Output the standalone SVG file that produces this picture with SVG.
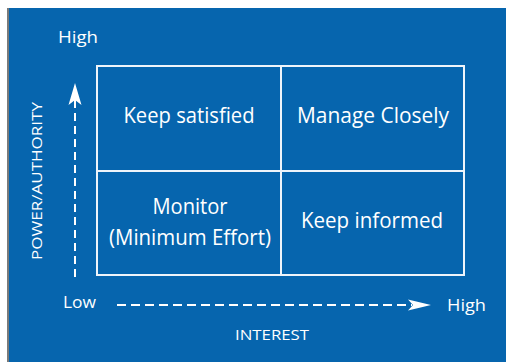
<svg xmlns="http://www.w3.org/2000/svg" width="506" height="362" viewBox="0 0 506 362">
  <style>
    .panel { fill: #0665ae; }
    .edge { stroke: #7a7a7a; stroke-width: 2; }
    .cell { fill: none; stroke: #eef4fa; stroke-width: 2; }
    .lbl { font-family: "Open Sans", "Liberation Sans", sans-serif; fill: #ffffff; }
    .cellText { font-size: 21px; text-anchor: middle; }
    .axisText { font-size: 16px; }
    .dash { stroke: #ffffff; stroke-width: 2; fill: none; }
    .head { fill: #ffffff; }
  </style>

  <!-- blue panel -->
  <rect class="panel" x="9" y="8" width="497" height="354"/>
  <line class="edge" x1="8" y1="8" x2="8" y2="362"/>

  <!-- quadrants -->
  <g id="keep-satisfied">
    <rect class="cell" x="97" y="66" width="184" height="105"/>
    <text class="lbl cellText" x="189" y="123" textLength="131" lengthAdjust="spacingAndGlyphs">Keep satisfied</text>
  </g>
  <g id="manage-closely">
    <rect class="cell" x="281" y="66" width="183" height="105"/>
    <text class="lbl cellText" x="373" y="123" textLength="152" lengthAdjust="spacingAndGlyphs">Manage Closely</text>
  </g>
  <g id="monitor">
    <rect class="cell" x="97" y="171" width="184" height="104"/>
    <text class="lbl cellText" x="190" y="214" textLength="75" lengthAdjust="spacingAndGlyphs">Monitor</text>
    <text class="lbl cellText" x="190" y="245" textLength="162" lengthAdjust="spacingAndGlyphs">(Minimum Effort)</text>
  </g>
  <g id="keep-informed">
    <rect class="cell" x="281" y="171" width="183" height="104"/>
    <text class="lbl cellText" x="372" y="228" textLength="142" lengthAdjust="spacingAndGlyphs">Keep informed</text>
  </g>

  <!-- axes -->
  <g id="connectors">
    <line class="dash" x1="75" y1="277" x2="75" y2="100" stroke-dasharray="8 5"/>
    <path class="head" d="M75,83 L81.5,105 L75,100 L68.5,105 Z"/>
    <line class="dash" x1="117" y1="305" x2="412" y2="305" stroke-dasharray="9 5"/>
    <path class="head" d="M431,305 L408,299.5 L413,305 L408,310.5 Z"/>
  </g>

  <!-- axis labels -->
  <g id="axis-labels">
    <text class="lbl axisText" x="58" y="43" textLength="40" lengthAdjust="spacingAndGlyphs">High</text>
    <text class="lbl axisText" x="63" y="308" textLength="33" lengthAdjust="spacingAndGlyphs">Low</text>
    <text class="lbl axisText" x="447" y="311" textLength="39" lengthAdjust="spacingAndGlyphs">High</text>
    <text class="lbl" font-size="15" x="272" y="340" text-anchor="middle" textLength="74" lengthAdjust="spacingAndGlyphs">INTEREST</text>
    <text class="lbl" font-size="15" transform="translate(42,181) rotate(-90)" text-anchor="middle" textLength="158" lengthAdjust="spacingAndGlyphs">POWER/AUTHORITY</text>
  </g>
</svg>
